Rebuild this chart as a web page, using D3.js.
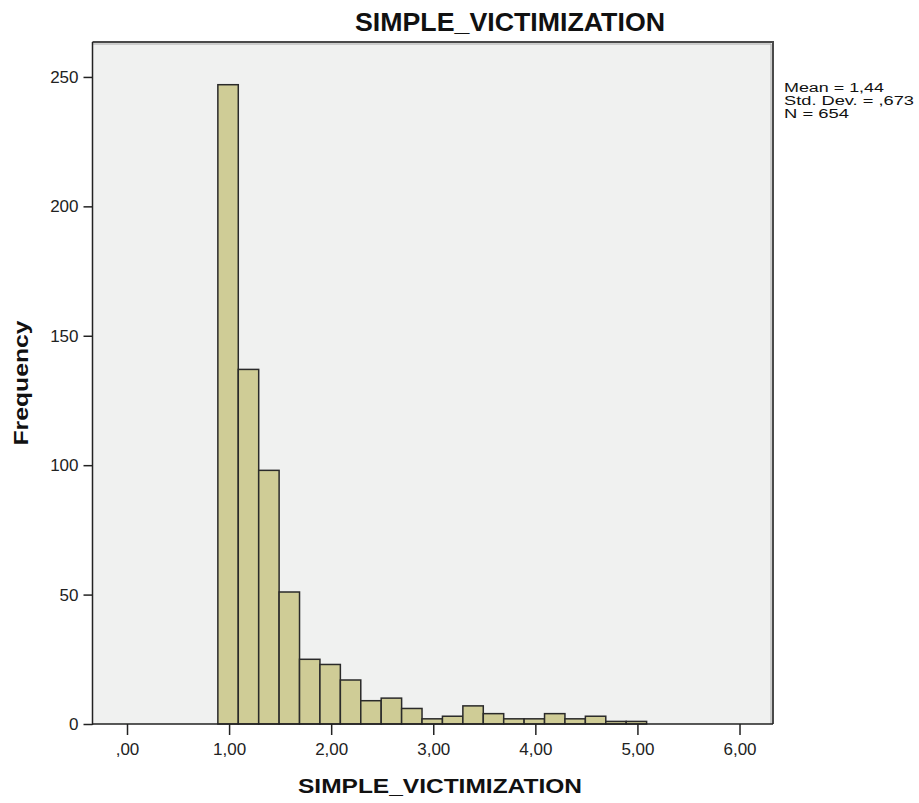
<!DOCTYPE html>
<html>
<head>
<meta charset="utf-8">
<script src="https://cdn.jsdelivr.net/npm/d3@7"></script>
<style>
  html, body { margin: 0; padding: 0; background: #ffffff; }
  svg { display: block; font-family: "Liberation Sans", Arial, sans-serif; }
</style>
</head>
<body>
<svg id="chart" width="919" height="803"></svg>
<script>
// Histogram of SIMPLE_VICTIMIZATION: bins of width 0.2 starting at 0.89
const binStart = 0.89;
const binWidth = 0.2;
const frequencies = [247, 137, 98, 51, 25, 23, 17, 9, 10, 6, 2, 3, 7, 4, 2, 2, 4, 2, 3, 1, 1];

const xTicks = [0, 1, 2, 3, 4, 5, 6];
const yTicks = [0, 50, 100, 150, 200, 250];
const statsLines = ["Mean = 1,44", "Std. Dev. = ,673", "N = 654"];
const statsWidths = [100, 130, 65];

const chartTitle = "SIMPLE_VICTIMIZATION";
const xTitle = "SIMPLE_VICTIMIZATION";
const yTitle = "Frequency";

const bins = frequencies.map((f, i) => ({
  x0: binStart + i * binWidth,
  x1: binStart + (i + 1) * binWidth,
  count: f
}));

const plot = { left: 92.5, right: 773, top: 42, bottom: 724 };

const x = d3.scaleLinear().domain([-0.338, 6.328]).range([plot.left, plot.right]);
const y = d3.scaleLinear().domain([0, 263.5]).range([plot.bottom, plot.top]);

// Comma decimal separator, leading zero dropped (",00", "1,00")
const fmtX = d => {
  const s = d3.format(".2f")(d).replace(".", ",");
  return s.startsWith("0,") ? s.slice(1) : s;
};

const svg = d3.select("#chart");

// Plot background
svg.append("rect")
  .attr("x", plot.left).attr("y", plot.top)
  .attr("width", plot.right - plot.left).attr("height", plot.bottom - plot.top)
  .attr("fill", "#f0f1f0");

// Frame: top and right edges
svg.append("path")
  .attr("d", `M${plot.left},${plot.top}H${plot.right}V${plot.bottom}`)
  .attr("fill", "none").attr("stroke", "#4a4a4a").attr("stroke-width", 2);
svg.append("path")
  .attr("d", `M${plot.left},${plot.top + 2}H${plot.right - 2}V${plot.bottom}`)
  .attr("fill", "none").attr("stroke", "#a8a8a8").attr("stroke-width", 1);

// Bars
svg.append("g").selectAll("rect")
  .data(bins)
  .join("rect")
  .attr("x", d => x(d.x0))
  .attr("y", d => y(d.count))
  .attr("width", d => x(d.x1) - x(d.x0))
  .attr("height", d => y(0) - y(d.count))
  .attr("fill", "#cfcc96")
  .attr("stroke", "#2a2a2a")
  .attr("stroke-width", 1.5);

// Y axis
const yAxis = svg.append("g")
  .attr("transform", `translate(${plot.left},0)`)
  .call(d3.axisLeft(y).tickValues(yTicks).tickSize(9).tickPadding(5).tickSizeOuter(0));
yAxis.select(".domain").remove();
yAxis.selectAll(".tick line").attr("stroke", "#222").attr("stroke-width", 1.5);
yAxis.selectAll(".tick text")
  .attr("font-size", 17).attr("fill", "#222")
  .attr("font-family", "'Liberation Sans', Arial, sans-serif");
svg.append("line")
  .attr("x1", plot.left).attr("x2", plot.left)
  .attr("y1", plot.top).attr("y2", plot.bottom + 1)
  .attr("stroke", "#222").attr("stroke-width", 1.5);

// X axis
const xAxis = svg.append("g")
  .attr("transform", `translate(0,${plot.bottom})`)
  .call(d3.axisBottom(x).tickValues(xTicks).tickFormat(fmtX).tickSize(11).tickPadding(8).tickSizeOuter(0));
xAxis.select(".domain").remove();
xAxis.selectAll(".tick line").attr("stroke", "#222").attr("stroke-width", 1.5);
xAxis.selectAll(".tick text")
  .attr("font-size", 17).attr("fill", "#222")
  .attr("font-family", "'Liberation Sans', Arial, sans-serif");
svg.append("line")
  .attr("x1", plot.left).attr("x2", plot.right)
  .attr("y1", plot.bottom).attr("y2", plot.bottom)
  .attr("stroke", "#222").attr("stroke-width", 1.5);

// Titles
svg.append("text")
  .attr("x", 510).attr("y", 31)
  .attr("text-anchor", "middle")
  .attr("font-size", 26).attr("font-weight", "bold").attr("fill", "#111")
  .attr("textLength", 310).attr("lengthAdjust", "spacingAndGlyphs")
  .text(chartTitle);

svg.append("text")
  .attr("x", 440).attr("y", 793)
  .attr("text-anchor", "middle")
  .attr("font-size", 21).attr("font-weight", "bold").attr("fill", "#111")
  .attr("textLength", 284).attr("lengthAdjust", "spacingAndGlyphs")
  .text(xTitle);

svg.append("text")
  .attr("transform", "translate(28,383) rotate(-90)")
  .attr("text-anchor", "middle")
  .attr("font-size", 21).attr("font-weight", "bold").attr("fill", "#111")
  .attr("textLength", 125).attr("lengthAdjust", "spacingAndGlyphs")
  .text(yTitle);

// Summary statistics
svg.append("g").selectAll("text")
  .data(statsLines)
  .join("text")
  .attr("x", 784)
  .attr("y", (d, i) => 92 + i * 13)
  .attr("font-size", 12.5).attr("fill", "#111")
  .attr("textLength", (d, i) => statsWidths[i]).attr("lengthAdjust", "spacingAndGlyphs")
  .text(d => d);
</script>
</body>
</html>
